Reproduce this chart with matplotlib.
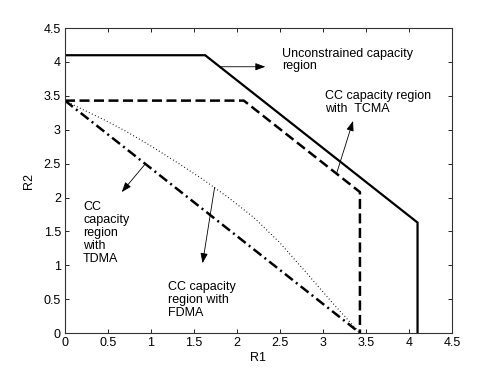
import matplotlib
matplotlib.use("Agg")
import matplotlib.pyplot as plt
from matplotlib.ticker import FuncFormatter, MultipleLocator

plt.rcParams['font.family'] = ['Liberation Sans', 'DejaVu Sans']

# unconstrained capacity region (solid)
unc_r1 = [0, 1.63, 4.1, 4.1]
unc_r2 = [4.1, 4.1, 1.63, 0]

# CC capacity region with TCMA (dashed)
tcma_r1 = [0, 2.08, 3.43, 3.43]
tcma_r2 = [3.43, 3.43, 2.08, 0]

# CC capacity region with TDMA (dash-dot)
tdma_r1 = [0, 3.43]
tdma_r2 = [3.43, 0]

# CC capacity region with FDMA (dotted curve)
fdma_r1 = [0, 0.14, 0.45, 0.72, 1.00, 1.30, 1.60, 1.90, 2.20, 2.50, 2.80, 3.10, 3.43]
fdma_r2 = [3.43, 3.34, 3.15, 2.97, 2.76, 2.52, 2.27, 2.00, 1.70, 1.33, 0.90, 0.46, 0.0]

fig = plt.figure(figsize=(4.98, 3.75), dpi=100)
ax = fig.add_axes([0.1305, 0.112, 0.777, 0.813])

ax.plot(unc_r1, unc_r2, color='black', lw=1.6, solid_joinstyle='miter')
ax.plot(tcma_r1, tcma_r2, color='black', lw=1.8, dashes=(4, 1.8))
ax.plot(tdma_r1, tdma_r2, color='black', lw=1.8, dashes=(4, 1.6, 0.8, 1.6))
ax.plot(fdma_r1, fdma_r2, color='black', lw=0.8, dashes=(0.8, 2.2))

ax.set_xlim(0, 4.5)
ax.set_ylim(0, 4.5)
ax.xaxis.set_major_locator(MultipleLocator(0.5))
ax.yaxis.set_major_locator(MultipleLocator(0.5))
fmt = FuncFormatter(lambda v, p: '%g' % v)
ax.xaxis.set_major_formatter(fmt)
ax.yaxis.set_major_formatter(fmt)
ax.tick_params(direction='in', top=True, right=True, length=3, width=0.6,
               labelsize=9, pad=3)
for s in ax.spines.values():
    s.set_linewidth(0.8)
    s.set_color('#333333')

ax.set_xlabel('R1', fontsize=9, labelpad=2)
ax.set_ylabel('R2', fontsize=9, labelpad=6)

arrow = dict(arrowstyle='-|>,head_length=0.6,head_width=0.22', color='black',
             lw=0.6, shrinkA=0, shrinkB=0)
fs = 9

ax.annotate('', xy=(2.33, 3.93), xytext=(1.80, 3.93), arrowprops=arrow)
ax.text(2.52, 4.03, 'Unconstrained capacity\nregion', fontsize=fs,
        va='center', ha='left', linespacing=1.1)

ax.annotate('', xy=(3.35, 3.13), xytext=(3.16, 2.36), arrowprops=arrow)
ax.text(3.02, 3.40, 'CC capacity region\nwith  TCMA', fontsize=fs,
        va='center', ha='left', linespacing=1.1)

ax.annotate('', xy=(0.66, 2.08), xytext=(0.93, 2.49), arrowprops=arrow)
ax.text(0.21, 1.48, 'CC\ncapacity\nregion\nwith\nTDMA', fontsize=fs,
        va='center', ha='left', linespacing=1.1)

ax.annotate('', xy=(1.60, 1.03), xytext=(1.74, 2.15), arrowprops=arrow)
ax.text(1.20, 0.49, 'CC capacity\nregion with\nFDMA', fontsize=fs,
        va='center', ha='left', linespacing=1.1)

fig.savefig('out.png', dpi=100, facecolor='white')
